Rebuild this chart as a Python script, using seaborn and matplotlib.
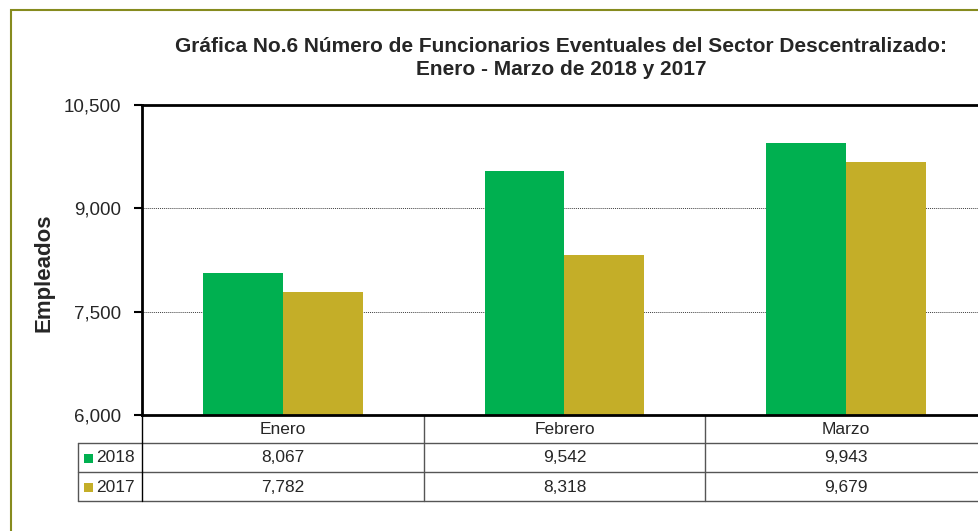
import numpy as np
import pandas as pd
import seaborn as sns
import matplotlib.pyplot as plt
from matplotlib.ticker import FuncFormatter
from matplotlib.patches import Rectangle
from matplotlib.transforms import blended_transform_factory

# datos
meses = ['Enero', 'Febrero', 'Marzo']
anios = ['2018', '2017']
emp_2018 = [8067, 9542, 9943]
emp_2017 = [7782, 8318, 9679]
colores = ['#00B050', '#C4AE28']
titulo = ('Gráfica No.6 Número de Funcionarios Eventuales del Sector Descentralizado:\n'
          'Enero - Marzo de 2018 y 2017')

df = pd.DataFrame({'Mes': meses * 2,
                   'Año': ['2018'] * 3 + ['2017'] * 3,
                   'Empleados': emp_2018 + emp_2017})

sns.set_style('white')
plt.rcParams['font.family'] = ['Liberation Sans', 'DejaVu Sans']

W, H = 979, 531
fig = plt.figure(figsize=(W / 100, H / 100), dpi=100)
ax = fig.add_axes([142 / W, 1 - 415 / H, (987 - 142) / W, (415 - 105) / H])

sns.barplot(data=df, x='Mes', y='Empleados', hue='Año', hue_order=anios,
            palette=colores, width=0.567, saturation=1, ax=ax, legend=False,
            linewidth=0, edgecolor='none')

ax.set_xlim(-0.5, 2.5)
ax.set_ylim(6000, 10500)
ax.set_yticks([6000, 7500, 9000, 10500])
ax.yaxis.set_major_formatter(FuncFormatter(lambda v, p: f'{v:,.0f}'))
ax.tick_params(axis='y', direction='out', length=6, width=1.5, color='black',
               labelsize=13.5, left=True, pad=9)
ax.set_xticks([])
ax.set_xlabel('')
ax.set_ylabel('')
for s in ['left', 'top', 'bottom']:
    ax.spines[s].set_color('black')
    ax.spines[s].set_linewidth(2)
ax.spines['right'].set_visible(False)
for yv in [7500, 9000]:
    ax.axhline(yv, color='#404040', lw=0.7, ls=(0, (1, 1)), zorder=0)

# tabla de datos
tr = blended_transform_factory(ax.transData, ax.transAxes)
def fy(py):
    return (415 - py) / 310.0

x_lab = -0.5 - (142 - 78) / 282.0
gris = '#555555'
for py in [443, 472, 501]:
    ax.plot([x_lab, 2.5], [fy(py)] * 2, color=gris, lw=1, transform=tr, clip_on=False)
ax.plot([x_lab, x_lab], [fy(443), fy(501)], color=gris, lw=1, transform=tr, clip_on=False)
for xv in [-0.5, 0.5, 1.5]:
    ax.plot([xv, xv], [fy(415), fy(501)], color='black' if xv == -0.5 else gris,
            lw=1, transform=tr, clip_on=False)

fs = 12.5
for i, m in enumerate(meses):
    ax.text(i, fy(429.5), m, ha='center', va='center', fontsize=fs, transform=tr)
    ax.text(i, fy(458), f'{emp_2018[i]:,}', ha='center', va='center', fontsize=fs, transform=tr)
    ax.text(i, fy(487), f'{emp_2017[i]:,}', ha='center', va='center', fontsize=fs, transform=tr)

for j, (a, c) in enumerate(zip(anios, colores)):
    yc = 458 + 29 * j
    ax.add_patch(Rectangle((-0.5 - (142 - 84) / 282.0, fy(yc + 4.5)), 9 / 282.0, 9 / 310.0,
                           facecolor=c, edgecolor='none', transform=tr, clip_on=False))
    ax.text(-0.5 - (142 - 96) / 282.0, fy(yc), a, ha='left', va='center',
            fontsize=fs, transform=tr)

fig.text(561 / W, 1 - 58 / H, titulo, ha='center', va='center', fontsize=15,
         fontweight='bold', linespacing=1.25)
fig.text(44 / W, 1 - 273 / H, 'Empleados', rotation=90, ha='center', va='center',
         fontsize=16, fontweight='bold')

fig.add_artist(Rectangle((11 / W, -0.1), 1.2, 1 - 10 / H + 0.1, transform=fig.transFigure,
                         fill=False, edgecolor='#868B1E', lw=1.5))

fig.savefig('out.png', dpi=100)
